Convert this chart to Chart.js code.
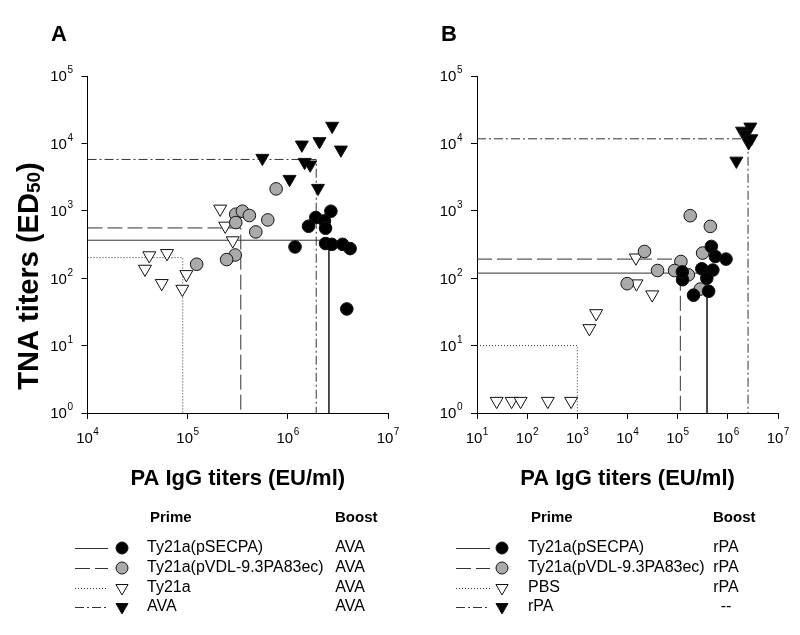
<!DOCTYPE html>
<html>
<head>
<meta charset="utf-8">
<script src="https://cdn.jsdelivr.net/npm/chart.js@4.4.1/dist/chart.umd.min.js"></script>
<style>
  body { margin: 0; background: #fff; }
  #wrap { position: relative; width: 800px; height: 635px; }
  canvas { position: absolute; top: 0; }
</style>
</head>
<body>
<div id="wrap">
  <canvas id="chartA" width="400" height="635" style="left:0"></canvas>
  <canvas id="chartB" width="400" height="635" style="left:400px"></canvas>
</div>
<script>
// ---- Panel A: boost with AVA ----
var aSecpaX = [2.69e6, 1.9e6, 2.32e6, 1.61e6, 2.38e6, 1.18e6, 2.38e6, 2.75e6, 3.52e6, 4.19e6, 3.88e6];
var aSecpaY = [986, 795, 708, 590, 551, 291, 327, 318, 318, 275, 35];
var aVdlX = [7.64e5, 3.02e5, 3.52e5, 4.13e5, 6.31e5, 3.02e5, 4.79e5, 2.98e5, 2.45e5, 1.23e5];
var aVdlY = [2115, 891, 986, 851, 732, 670, 486, 221, 189, 161];
var aTyX = [2.11e5, 2.37e5, 2.82e5, 4.14e4, 6.22e4, 3.75e4, 9.7e4, 5.51e4, 8.85e4];
var aTyY = [1067, 597, 362, 217, 234, 137, 114, 84, 69];
var aAvaX = [5.57e5, 1.47e6, 1.67e6, 1.04e6, 2.0e6, 1.38e6, 2.07e6, 3.39e6, 2.77e6];
var aAvaY = [6050, 5270, 4810, 2950, 2170, 9530, 10700, 8030, 18100];
// group means (x, y)
var aMeanX = [2.57e6, 3.39e5, 8.93e4, 1.92e6];
var aMeanY = [366, 557, 202, 5780];
var aPrime = ["Ty21a(pSECPA)", "Ty21a(pVDL-9.3PA83ec)", "Ty21a", "AVA"];
var aBoost = ["AVA", "AVA", "AVA", "AVA"];

// ---- Panel B: boost with rPA ----
var bSecpaX = [4.69e5, 5.64e5, 9.2e5, 3.03e5, 5.02e5, 1.25e5, 3.81e5, 2.07e5, 4.14e5, 1.24e5];
var bSecpaY = [296, 210, 192, 138, 132, 95, 100, 56, 64, 124];
var bVdlX = [1.78e5, 4.48e5, 2.18e4, 3.14e5, 1.16e5, 3.97e4, 8.67e4, 1.63e5, 9.86e3, 2.83e5];
var bVdlY = [846, 587, 249, 236, 177, 130, 130, 112, 83, 69];
var bPbsX = [1.47e4, 1.51e4, 3.11e4, 2.37e3, 1.74e3, 24.7, 49, 74, 258, 752];
var bPbsY = [201, 83, 57, 30, 18, 1.5, 1.5, 1.5, 1.5, 1.5];
var bRpaX = [2.81e6, 1.92e6, 2.23e6, 2.6e6, 2.94e6, 1.48e6];
var bRpaY = [17600, 15300, 13600, 10300, 11800, 5500];
var bMeanX = [3.85e5, 1.13e5, 1000, 2.53e6];
var bMeanY = [119, 192, 10, 11700];
var bPrime = ["Ty21a(pSECPA)", "Ty21a(pVDL-9.3PA83ec)", "PBS", "rPA"];
var bBoost = ["rPA", "rPA", "rPA", "--"];

var yDecades = [1, 10, 100, 1e3, 1e4, 1e5];
var aXDecades = [1e4, 1e5, 1e6, 1e7];
var bXDecades = [10, 100, 1e3, 1e4, 1e5, 1e6, 1e7];

var FONT = '"Liberation Sans", Arial, sans-serif';

function pts(xs, ys) {
  return xs.map(function (x, i) { return { x: x, y: ys[i] }; });
}
function meanPath(mx, my, xmin) {
  return [{ x: xmin, y: my }, { x: mx, y: my }, { x: mx, y: 1 }];
}

// marker / line styles per group
var styles = [
  { shape: "circle", fill: "#000", dash: [] },
  { shape: "circle", fill: "#aaaaaa", dash: [15, 5] },
  { shape: "triangle", fill: "#fff", dash: [1, 2] },
  { shape: "triangle", fill: "#000", dash: [9, 3, 2, 3] }
];

function pointSet(xs, ys, st) {
  return {
    data: pts(xs, ys),
    pointStyle: st.shape,
    pointRotation: st.shape === "triangle" ? 180 : 0,
    pointRadius: st.shape === "triangle" ? 7.5 : 6.3,
    backgroundColor: st.fill,
    borderColor: "#111",
    borderWidth: 1,
    clip: false,
    order: 0
  };
}
function lineSet(mx, my, xmin, st) {
  return {
    data: meanPath(mx, my, xmin),
    showLine: true,
    pointRadius: 0,
    borderColor: "#333",
    borderWidth: 1,
    borderDash: st.dash,
    fill: false,
    order: 1
  };
}

function drawMarker(ctx, st, x, y) {
  ctx.beginPath();
  if (st.shape === "circle") {
    ctx.arc(x, y, 6, 0, Math.PI * 2);
  } else {
    var r = 7;
    ctx.moveTo(x - r * 0.866, y - r * 0.5);
    ctx.lineTo(x + r * 0.866, y - r * 0.5);
    ctx.lineTo(x, y + r);
    ctx.closePath();
  }
  ctx.fillStyle = st.fill;
  ctx.fill();
  ctx.strokeStyle = "#111";
  ctx.lineWidth = 1;
  ctx.stroke();
}

// "10" with a raised exponent; y is the middle of the digits
function drawPow(ctx, exp, x, y, align) {
  ctx.font = "15px " + FONT;
  var w1 = ctx.measureText("10").width;
  ctx.font = "10px " + FONT;
  var w2 = ctx.measureText(String(exp)).width;
  var total = w1 + 0.5 + w2;
  var x0 = align === "center" ? x - total / 2 : x - total;
  var base = y + 5.4;
  ctx.textAlign = "left";
  ctx.textBaseline = "alphabetic";
  ctx.font = "15px " + FONT;
  ctx.fillText("10", x0, base);
  ctx.font = "10px " + FONT;
  ctx.fillText(String(exp), x0 + w1 + 0.5, base - 8);
}

// tick labels, panel letter, rotated y title and the Prime/Boost table
var panelDecor = {
  id: "panelDecor",
  afterDraw: function (chart, args, o) {
    var ctx = chart.ctx;
    var xs = chart.scales.x, ys = chart.scales.y;
    ctx.save();
    ctx.fillStyle = "#000";

    xs.ticks.forEach(function (t) {
      drawPow(ctx, Math.round(Math.log10(t.value)), xs.getPixelForValue(t.value), 437.5, "center");
    });
    ys.ticks.forEach(function (t) {
      drawPow(ctx, Math.round(Math.log10(t.value)), chart.chartArea.left - 14.5, ys.getPixelForValue(t.value), "right");
    });

    ctx.textBaseline = "alphabetic";
    ctx.textAlign = "left";
    ctx.font = "bold 22px " + FONT;
    ctx.fillText(o.letter, o.letterX, 41);

    if (o.yTitle) {
      ctx.save();
      ctx.translate(27, 276);
      ctx.rotate(-Math.PI / 2);
      var main = "TNA titers (ED", sub = "50", tail = ")";
      ctx.font = "bold 29px " + FONT;
      var w1 = ctx.measureText(main).width, w3 = ctx.measureText(tail).width;
      ctx.font = "bold 19px " + FONT;
      var w2 = ctx.measureText(sub).width;
      var x0 = -(w1 + w2 + w3) / 2;
      ctx.font = "bold 29px " + FONT;
      ctx.fillText(main, x0, 10.5);
      ctx.font = "bold 19px " + FONT;
      ctx.fillText(sub, x0 + w1, 12.5);
      ctx.font = "bold 29px " + FONT;
      ctx.fillText(tail, x0 + w1 + w2, 10.5);
      ctx.restore();
    }

    // table legend
    ctx.textBaseline = "middle";
    ctx.font = "bold 15px " + FONT;
    ctx.fillText("Prime", o.textX + 3, 518);
    ctx.fillText("Boost", o.boostX, 518);
    ctx.font = "16px " + FONT;
    var rowY = [548, 568, 588, 607];
    o.prime.forEach(function (name, i) {
      var st = styles[i], y = rowY[i];
      ctx.save();
      ctx.strokeStyle = "#333";
      ctx.lineWidth = 1;
      ctx.setLineDash(st.dash);
      ctx.beginPath();
      ctx.moveTo(o.lineX0, y + 0.5);
      ctx.lineTo(o.lineX1, y + 0.5);
      ctx.stroke();
      ctx.restore();
      drawMarker(ctx, st, o.markerX, y);
      ctx.fillStyle = "#000";
      ctx.textAlign = "left";
      ctx.fillText(name, o.textX, y);
      ctx.textAlign = "center";
      ctx.fillText(o.boost[i], o.boostC, y);
    });
    ctx.restore();
  }
};

function makeChart(id, groups, meansX, meansY, xMin, xTicks, yAxisW, padRight, decor) {
  var datasets = [];
  groups.forEach(function (g, i) { datasets.push(pointSet(g[0], g[1], styles[i])); });
  meansX.forEach(function (mx, i) { datasets.push(lineSet(mx, meansY[i], xMin, styles[i])); });
  return new Chart(document.getElementById(id), {
    type: "scatter",
    data: { datasets: datasets },
    plugins: [panelDecor],
    options: {
      responsive: false,
      animation: false,
      events: [],
      layout: { padding: { left: 0, top: 76, right: padRight, bottom: 138.6 } },
      plugins: { legend: { display: false }, tooltip: { enabled: false }, panelDecor: decor },
      scales: {
        x: {
          type: "logarithmic",
          min: xTicks[0],
          max: xTicks[xTicks.length - 1],
          afterBuildTicks: function (s) { s.ticks = xTicks.map(function (v) { return { value: v }; }); },
          afterFit: function (s) { s.height = 83.4; },
          ticks: { display: false },
          grid: { drawOnChartArea: false, tickLength: 6, color: "#000" },
          border: { color: "#000" },
          title: { display: true, text: "PA IgG titers (EU/ml)", color: "#000", font: { family: FONT, size: 22, weight: "bold" } }
        },
        y: {
          type: "logarithmic",
          min: 1,
          max: 1e5,
          afterBuildTicks: function (s) { s.ticks = yDecades.map(function (v) { return { value: v }; }); },
          afterFit: function (s) { s.width = yAxisW; },
          ticks: { display: false },
          grid: { drawOnChartArea: false, tickLength: 6, color: "#000" },
          border: { color: "#000" }
        }
      }
    }
  });
}

makeChart("chartA",
  [[aSecpaX, aSecpaY], [aVdlX, aVdlY], [aTyX, aTyY], [aAvaX, aAvaY]],
  aMeanX, aMeanY, 1e4, aXDecades, 87.5, 12,
  { letter: "A", letterX: 51, yTitle: true, prime: aPrime, boost: aBoost,
    lineX0: 75, lineX1: 108, markerX: 122, textX: 147, boostX: 335, boostC: 350 });

makeChart("chartB",
  [[bSecpaX, bSecpaY], [bVdlX, bVdlY], [bPbsX, bPbsY], [bRpaX, bRpaY]],
  bMeanX, bMeanY, 10, bXDecades, 77, 22,
  { letter: "B", letterX: 41, yTitle: false, prime: bPrime, boost: bBoost,
    lineX0: 56, lineX1: 90, markerX: 102, textX: 128, boostX: 313, boostC: 326 });
</script>
</body>
</html>
